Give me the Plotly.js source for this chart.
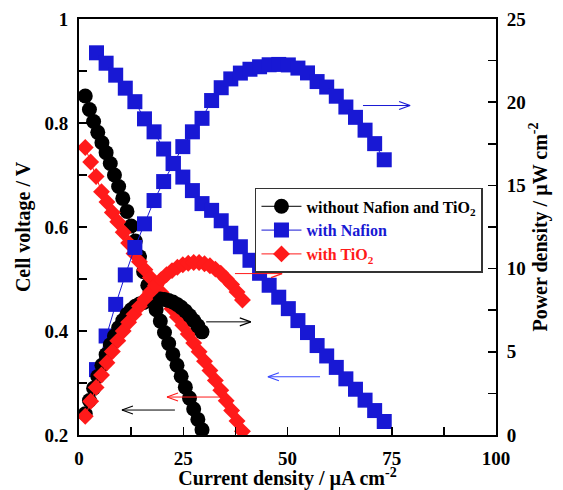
<!DOCTYPE html>
<html><head><meta charset="utf-8">
<script src="https://cdn.plot.ly/plotly-3.0.1.min.js"></script>
<style>html,body{margin:0;padding:0;background:#fff}</style>
</head><body><div id="chart" style="width:563px;height:490px"></div>
<script>
// Current density (µA cm-2), cell voltage (V), power density (µW cm-2)
const blackI = [1.5,2.5,3.5,4.5,5.5,6.5,7.5,8.5,9.5,10.5,11.5,12.5,13.5,14.5,15.5,16.5,17.5,18.5,19.5,20.5,21.5,22.5,23.5,24.5,25.5,26.5,27.5,28.5,29.5];
const blackV = [0.852,0.826,0.803,0.782,0.762,0.743,0.722,0.700,0.678,0.655,0.630,0.602,0.573,0.543,0.514,0.488,0.464,0.441,0.419,0.397,0.376,0.355,0.334,0.313,0.292,0.271,0.250,0.230,0.210];
const blackP = [1.28,2.07,2.81,3.52,4.19,4.83,5.42,5.95,6.44,6.88,7.25,7.53,7.74,7.87,7.97,8.05,8.12,8.16,8.17,8.14,8.08,7.99,7.85,7.67,7.45,7.18,6.88,6.56,6.20];

const blueI = [4.2,6.5,8.8,11.1,13.4,15.7,18.0,20.3,22.6,24.9,27.2,29.5,31.8,34.1,36.4,38.7,41.0,43.3,45.6,47.9,50.2,52.5,54.8,57.1,59.4,61.7,64.0,66.3,68.6,70.9,73.2];
const blueV = [0.935,0.915,0.892,0.867,0.841,0.808,0.783,0.750,0.722,0.696,0.670,0.645,0.632,0.612,0.588,0.562,0.536,0.511,0.488,0.465,0.443,0.420,0.397,0.372,0.352,0.330,0.308,0.288,0.267,0.247,0.226];
const blueP = [3.93,5.95,7.85,9.62,11.27,12.69,14.09,15.23,16.32,17.33,18.22,19.03,20.10,20.87,21.40,21.75,21.98,22.13,22.25,22.27,22.24,22.05,21.76,21.24,20.91,20.36,19.71,19.09,18.32,17.51,16.54];

const redI = [1.5,2.8,4.1,5.4,6.7,8.0,9.3,10.6,11.9,13.2,14.5,15.8,17.1,18.4,19.7,21.0,22.3,23.6,24.9,26.2,27.5,28.8,30.1,31.4,32.7,34.0,35.3,36.6,37.9,39.2];
const redV = [0.753,0.725,0.697,0.668,0.648,0.628,0.610,0.590,0.569,0.549,0.533,0.518,0.503,0.488,0.474,0.459,0.443,0.427,0.411,0.394,0.377,0.360,0.342,0.324,0.305,0.286,0.266,0.247,0.227,0.207];
const redP = [1.13,2.03,2.86,3.61,4.34,5.02,5.67,6.25,6.77,7.25,7.73,8.18,8.60,8.98,9.34,9.64,9.88,10.08,10.23,10.32,10.37,10.37,10.29,10.17,9.97,9.72,9.39,9.04,8.60,8.11];

const seriesNames = ['without Nafion and TiO<sub>2</sub>','with Nafion','with TiO<sub>2</sub>'];
// Arrows: [tail x, tip x, y value]
const arrowsLeftAxis = [[23.0,10.3,0.248],[34.3,21.1,0.273],[57.8,45.3,0.312]];
const arrowsRightAxis = [[30.5,41.2,6.8],[37.4,48.7,9.7],[68.1,79.4,19.8]];

const BLACK = '#000000', BLUE = '#1818d4', RED = '#ff1a1a';
const arrowColors = [BLACK, RED, '#3a4aff'];
const arrowColorsR = [BLACK, RED, BLUE];
const FONT = 'Liberation Serif, Times New Roman, serif';

function tr(x, y, axis, color, symbol, size, name, show, rank) {
  return {x: x, y: y, yaxis: axis, type: 'scatter', mode: 'lines+markers',
    line: {color: color, width: 1},
    marker: {color: color, symbol: symbol, size: size, line: {width: 0}},
    name: '<span style="color:' + color + '">' + name + '</span>',
    legendgroup: name, showlegend: show, legendrank: rank};
}
const data = [
  tr(blueI, blueV, 'y', BLUE, 'square', 15, seriesNames[1], true, 2),
  tr(blueI, blueP, 'y2', BLUE, 'square', 15, seriesNames[1], false, 2),
  tr(blackI, blackV, 'y', BLACK, 'circle', 15, seriesNames[0], true, 1),
  tr(blackI, blackP, 'y2', BLACK, 'circle', 15, seriesNames[0], false, 1),
  tr(redI, redV, 'y', RED, 'diamond', 13, seriesNames[2], true, 3),
  tr(redI, redP, 'y2', RED, 'diamond', 13, seriesNames[2], false, 3)
];

const shapes = [];
function addArrow(a, yref, color) {
  const tail = a[0], tip = a[1], yv = a[2];
  const dir = tip < tail ? 1 : -1;
  shapes.push({type: 'line', xref: 'x', yref: yref, x0: tail, x1: tip, y0: yv, y1: yv, line: {color: color, width: 1}});
  [4, -4].forEach(function (h) {
    shapes.push({type: 'line', xref: 'x', yref: yref, xsizemode: 'pixel', ysizemode: 'pixel',
      xanchor: tip, yanchor: yv, x0: 0, x1: dir * 11, y0: 0, y1: h, line: {color: color, width: 1.2}});
  });
}
arrowsLeftAxis.forEach(function (a, i) { addArrow(a, 'y', arrowColors[i]); });
arrowsRightAxis.forEach(function (a, i) { addArrow(a, 'y2', arrowColorsR[i]); });

const tickFont = {family: FONT, size: 19, color: '#000', weight: 'bold'};
const titleFont = {family: FONT, size: 20, color: '#000', weight: 'bold'};
function minorTicks(d) {
  return {ticks: 'inside', dtick: d, ticklen: 8, tickwidth: 1.5, tickcolor: '#000', showgrid: false};
}
const layout = {
  width: 563, height: 490,
  margin: {l: 79, r: 67, t: 19, b: 55},
  paper_bgcolor: '#fff', plot_bgcolor: '#fff',
  showlegend: true,
  legend: {x: 0.422, y: 0.594, xanchor: 'left', yanchor: 'top', bgcolor: '#fff',
    bordercolor: '#333', borderwidth: 1.5, font: {family: FONT, size: 16, weight: 'bold'},
    itemwidth: 40, tracegroupgap: 0},
  xaxis: {range: [0, 100], tick0: 0, dtick: 25, ticks: 'inside', ticklen: 8, tickwidth: 1.5,
    tickcolor: '#000', showline: true, linecolor: '#000', linewidth: 2, mirror: true,
    showgrid: false, zeroline: false, tickfont: tickFont, ticklabelstandoff: 5,
    minor: minorTicks(12.5),
    title: {text: 'Current density / µA cm<sup>-2</sup>', font: titleFont, standoff: 6}},
  yaxis: {range: [0.2, 1], tick0: 0.2, dtick: 0.2,
    ticks: 'inside', ticklen: 8, tickwidth: 1.5,
    tickcolor: '#000', showline: true, linecolor: '#000', linewidth: 2,
    showgrid: false, zeroline: false, tickfont: tickFont, ticklabelstandoff: 5,
    minor: minorTicks(0.1),
    title: {text: 'Cell voltage / V', font: titleFont, standoff: 8}},
  yaxis2: {range: [0, 25], tick0: 0, dtick: 5, overlaying: 'y', side: 'right',
    ticks: 'inside', ticklen: 8, tickwidth: 1.5,
    tickcolor: '#000', showline: true, linecolor: '#000', linewidth: 2,
    showgrid: false, zeroline: false, tickfont: tickFont, ticklabelstandoff: 5,
    minor: minorTicks(2.5),
    title: {text: 'Power density / µW cm<sup>-2</sup>', font: titleFont, standoff: 8}},
  shapes: shapes
};
Plotly.newPlot('chart', data, layout, {displayModeBar: false, staticPlot: true});
</script></body></html>
